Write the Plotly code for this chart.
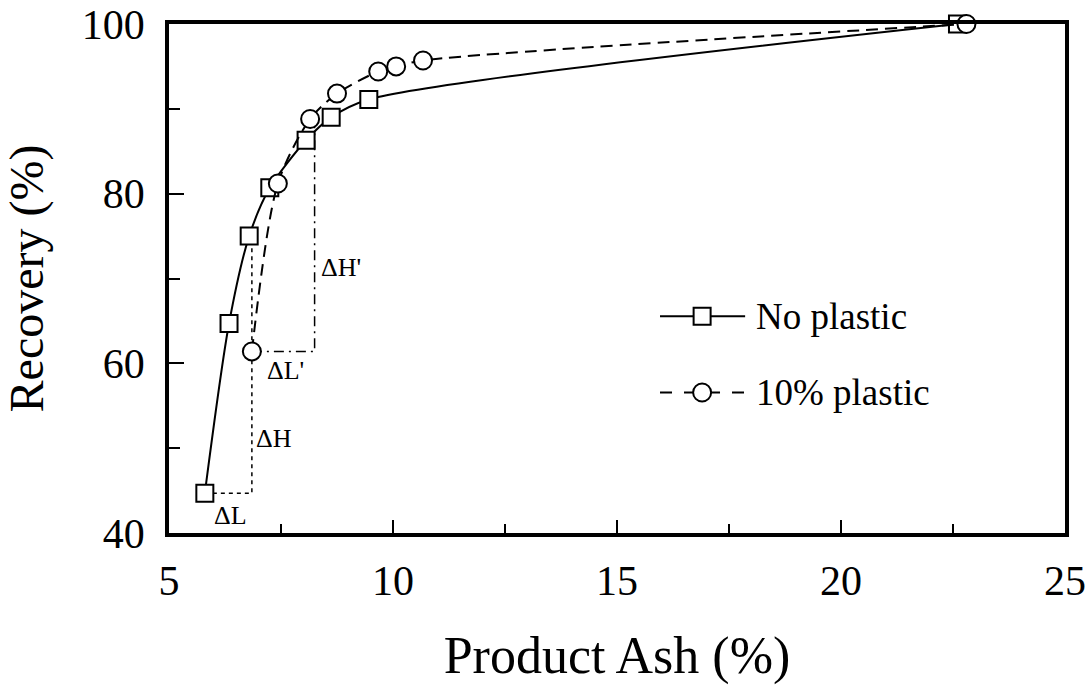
import plotly.graph_objects as go

# ---- data ----
ash_no_plastic = [5.80, 6.34, 6.79, 7.25, 8.06, 8.62, 9.46, 22.6]
rec_no_plastic = [44.7, 64.7, 75.0, 80.7, 86.3, 89.0, 91.1, 100.0]

ash_plastic = [6.85, 7.43, 8.15, 8.75, 9.67, 10.07, 10.67, 22.8]
rec_plastic = [61.4, 81.2, 88.8, 91.8, 94.4, 95.0, 95.7, 100.0]

# guide lines (ΔL, ΔH, ΔL', ΔH')
guide_dh_x = [5.80, 6.85, 6.85]
guide_dh_y = [44.7, 44.7, 75.0]
guide_dhp_x = [6.85, 8.25, 8.25]
guide_dhp_y = [61.4, 61.4, 88.8]

labels = ["ΔL", "ΔH", "ΔL'", "ΔH'"]
label_x = [5.97, 6.9, 7.15, 8.35]
label_y = [42.1, 51.1, 59.1, 71.3]

x_ticks = [5, 10, 15, 20, 25]
y_ticks = [40, 60, 80, 100]

FONT = "Liberation Serif"

fig = go.Figure()

fig.add_trace(go.Scatter(
    x=guide_dh_x, y=guide_dh_y, mode="lines",
    line=dict(color="black", width=1.5, dash="4px,4px"),
    showlegend=False, hoverinfo="skip"))
fig.add_trace(go.Scatter(
    x=guide_dhp_x, y=guide_dhp_y, mode="lines",
    line=dict(color="black", width=1.5, dash="10px,5px,2px,5px"),
    showlegend=False, hoverinfo="skip"))

fig.add_trace(go.Scatter(
    x=ash_no_plastic, y=rec_no_plastic, mode="lines+markers", name="No plastic",
    line=dict(color="black", width=2, shape="spline", smoothing=0.8),
    marker=dict(symbol="square", size=17, color="white",
                line=dict(color="black", width=2)),
    cliponaxis=False, showlegend=False))
fig.add_trace(go.Scatter(
    x=ash_plastic, y=rec_plastic, mode="lines+markers", name="10% plastic",
    line=dict(color="black", width=2, dash="12px,7px", shape="spline", smoothing=0.8),
    marker=dict(symbol="circle", size=18, color="white",
                line=dict(color="black", width=2)),
    cliponaxis=False, showlegend=False))

for t, lx, ly in zip(labels, label_x, label_y):
    fig.add_annotation(x=lx, y=ly, text=t, showarrow=False, xanchor="left",
                       yanchor="middle", font=dict(family=FONT, size=26, color="black"))

# custom legend (paper coordinates)
LEG_Y1 = 0.426
LEG_Y2 = 0.276
shapes = []
shapes.append(dict(type="line", xref="paper", yref="paper", x0=0.548, x1=0.643,
                   y0=LEG_Y1, y1=LEG_Y1, line=dict(color="black", width=2)))
shapes.append(dict(type="rect", xref="paper", yref="paper", xsizemode="pixel",
                   ysizemode="pixel", xanchor=0.595, yanchor=LEG_Y1,
                   x0=-8.5, x1=8.5, y0=-8.5, y1=8.5,
                   fillcolor="white", line=dict(color="black", width=2)))
shapes.append(dict(type="line", xref="paper", yref="paper", x0=0.548, x1=0.643,
                   y0=LEG_Y2, y1=LEG_Y2, line=dict(color="black", width=2, dash="12px,12px")))
shapes.append(dict(type="circle", xref="paper", yref="paper", xsizemode="pixel",
                   ysizemode="pixel", xanchor=0.595, yanchor=LEG_Y2,
                   x0=-9, x1=9, y0=-9, y1=9,
                   fillcolor="white", line=dict(color="black", width=2)))
fig.update_layout(shapes=shapes)
fig.add_annotation(xref="paper", yref="paper", x=0.653, y=LEG_Y1, text="No plastic",
                   showarrow=False, xanchor="left", yanchor="middle",
                   font=dict(family=FONT, size=37, color="black"))
fig.add_annotation(xref="paper", yref="paper", x=0.653, y=LEG_Y2, text="10% plastic",
                   showarrow=False, xanchor="left", yanchor="middle",
                   font=dict(family=FONT, size=37, color="black"))

fig.update_layout(
    width=1089, height=687,
    margin=dict(l=169, r=24, t=24, b=154, autoexpand=False),
    paper_bgcolor="white", plot_bgcolor="white",
    font=dict(family=FONT, color="black", size=42),
    xaxis=dict(range=[5, 25], tickvals=x_ticks, ticks="inside", ticklen=13, tickwidth=1.5,
               tickcolor="black", showline=True, linewidth=3.5, linecolor="black",
               mirror=True, showgrid=False, zeroline=False, automargin=False,
               ticklabeloverflow="allow", ticklabelstandoff=8,
               minor=dict(dtick=2.5, ticks="inside", ticklen=9, tickwidth=1.5, tickcolor="black"),
               title=dict(text="Product Ash (%)", font=dict(size=52), standoff=34),
               tickfont=dict(size=42)),
    yaxis=dict(range=[40, 100], tickvals=y_ticks, ticks="inside", ticklen=15, tickwidth=1.5,
               tickcolor="black", showline=True, linewidth=3.5, linecolor="black",
               mirror=True, showgrid=False, zeroline=False, automargin=False,
               ticklabeloverflow="allow", ticklabelstandoff=12,
               minor=dict(dtick=10, ticks="inside", ticklen=11, tickwidth=1.5, tickcolor="black"),
               title=dict(text="Recovery (%)", font=dict(size=48), standoff=44),
               tickfont=dict(size=42)),
)

fig.write_html("out.html", config={"displayModeBar": False},
               post_script="document.body.style.margin='0';")
